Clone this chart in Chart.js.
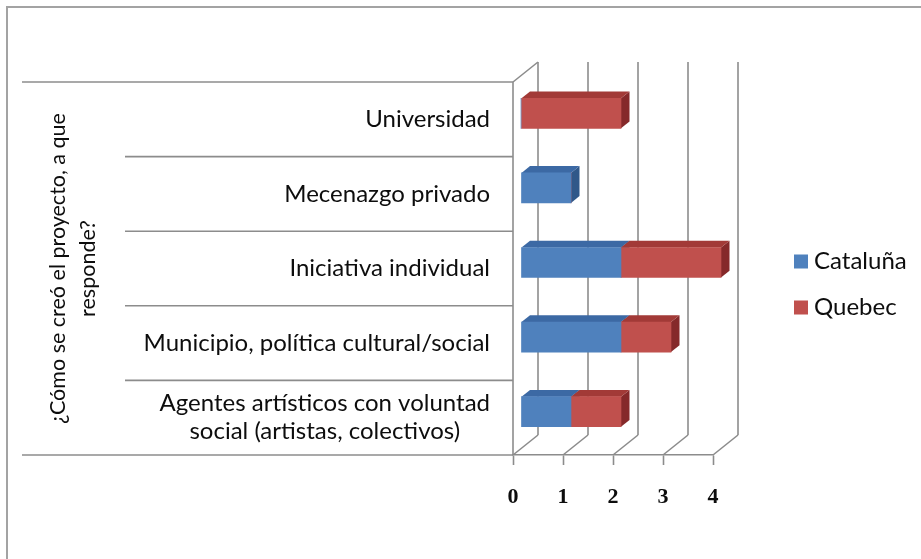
<!DOCTYPE html>
<html>
<head>
<meta charset="utf-8">
<script src="https://cdn.jsdelivr.net/npm/chart.js@4.4.1/dist/chart.umd.min.js"></script>
<style>
  html, body { margin: 0; padding: 0; background: #fff; }
  #wrap { position: relative; width: 921px; height: 559px; overflow: hidden; }
  #frame { position: absolute; left: 6px; top: 6px; width: 1000px; height: 1000px;
           border-left: 2px solid #a3a3a3; border-top: 2px solid #a3a3a3; }
  #chart { position: absolute; left: 0; top: 0; }
</style>
</head>
<body>
<div id="wrap">
  <div id="frame"></div>
  <canvas id="chart" width="921" height="559"></canvas>
</div>
<script>
// Categories, top to bottom
const categories = [
    'Universidad',
    'Mecenazgo privado',
    'Iniciativa individual',
    'Municipio, política cultural/social',
    ['Agentes artísticos con voluntad', 'social (artistas, colectivos)']
];
const catalunaValues = [0, 1, 2, 2, 1];
const quebecValues = [2, 0, 2, 1, 1];
const xTicks = [0, 1, 2, 3, 4];
const axisTitle = ['¿Cómo se creó el proyecto, a que', 'responde?'];

const SANS = 'Lato, "Open Sans", sans-serif';
const LINE = '#8c8c8c';

// 3D look: depth of the back wall and of each bar
const WALL_DX = 25, WALL_DY = -20;
const BAR_OFF_X = 8, BAR_OFF_Y = -6;
const BAR_DX = 8.5, BAR_DY = -6.8;

const faceColors = [
    { top: '#3c69a4', side: '#305889' },
    { top: '#a23a37', side: '#85292a' }
];

function line(ctx, x1, y1, x2, y2) {
    ctx.beginPath();
    ctx.moveTo(x1, y1);
    ctx.lineTo(x2, y2);
    ctx.stroke();
}

// walls, floor and category separators, then the hidden faces of the bars
const wallPlugin = {
    id: 'walls',
    beforeDatasetsDraw(chart) {
        const { ctx, chartArea } = chart;
        const xScale = chart.scales.x;
        const yScale = chart.scales.y;
        const { top, bottom, left } = chartArea;

        ctx.save();
        ctx.strokeStyle = LINE;
        ctx.lineWidth = 1.6;

        xTicks.forEach(v => {
            const px = xScale.getPixelForValue(v);
            line(ctx, px + WALL_DX, top + WALL_DY, px + WALL_DX, bottom + WALL_DY);
            line(ctx, px, bottom, px + WALL_DX, bottom + WALL_DY);
        });

        // side wall
        line(ctx, left, top, left, bottom);
        line(ctx, left, top, left + WALL_DX, top + WALL_DY);

        // separators between categories
        const n = categories.length;
        for (let i = 0; i <= n; i++) {
            let y;
            if (i === 0) y = top;
            else if (i === n) y = bottom;
            else y = (yScale.getPixelForValue(i - 1) + yScale.getPixelForValue(i)) / 2;
            const startX = (i === 0 || i === n) ? 22 : 125;
            line(ctx, startX, y, left, y);
        }
        ctx.restore();

        // bars sit a little behind the front plane; top and side faces first
        ctx.save();
        ctx.translate(BAR_OFF_X, BAR_OFF_Y);
        chart.data.datasets.forEach((ds, di) => {
            const meta = chart.getDatasetMeta(di);
            meta.data.forEach((bar, i) => {
                if (!ds.data[i]) return;
                const p = bar.getProps(['x', 'y', 'base', 'height'], true);
                const l = Math.min(p.base, p.x), r = Math.max(p.base, p.x);
                const t = p.y - p.height / 2, b = p.y + p.height / 2;

                ctx.fillStyle = faceColors[di].side;
                ctx.beginPath();
                ctx.moveTo(r, t);
                ctx.lineTo(r + BAR_DX, t + BAR_DY);
                ctx.lineTo(r + BAR_DX, b + BAR_DY);
                ctx.lineTo(r, b);
                ctx.closePath();
                ctx.fill();

                ctx.fillStyle = faceColors[di].top;
                ctx.beginPath();
                ctx.moveTo(l, t);
                ctx.lineTo(l + BAR_DX, t + BAR_DY);
                ctx.lineTo(r + BAR_DX, t + BAR_DY);
                ctx.lineTo(r, t);
                ctx.closePath();
                ctx.fill();
            });
        });
    },
    afterDatasetsDraw(chart) {
        chart.ctx.restore();
    }
};

// category names, axis title and the legend
const labelPlugin = {
    id: 'categoryLabels',
    afterDraw(chart) {
        const { ctx, chartArea } = chart;
        const yScale = chart.scales.y;
        const rightX = chartArea.left - 23;
        const lh = 28;

        ctx.save();
        ctx.fillStyle = '#0d0d0d';
        ctx.font = '24px ' + SANS;
        ctx.textBaseline = 'middle';
        ctx.textAlign = 'center';
        categories.forEach((cat, i) => {
            const y = yScale.getPixelForValue(i);
            const lines = Array.isArray(cat) ? cat : [cat];
            const w = Math.max(...lines.map(s => ctx.measureText(s).width));
            const cx = rightX - w / 2;
            lines.forEach((s, k) => {
                ctx.fillText(s, cx, y + (k - (lines.length - 1) / 2) * lh);
            });
        });

        // legend
        const legX = chartArea.right + 81;
        const legMid = (chartArea.top + chartArea.bottom) / 2 + 16;
        const gap = 46;
        ctx.textAlign = 'left';
        chart.data.datasets.forEach((ds, di) => {
            const y = legMid + (di - (chart.data.datasets.length - 1) / 2) * gap;
            ctx.fillStyle = ds.backgroundColor;
            ctx.fillRect(legX, y - 7, 14, 14);
            ctx.fillStyle = '#0d0d0d';
            ctx.fillText(ds.label, legX + 20, y);
        });

        // rotated title
        const midY = (chartArea.top + chartArea.bottom) / 2;
        ctx.font = '21.5px ' + SANS;
        ctx.translate(73, midY);
        ctx.rotate(-Math.PI / 2);
        ctx.textAlign = 'center';
        axisTitle.forEach((s, k) => {
            ctx.fillText(s, 0, (k - (axisTitle.length - 1) / 2) * 30);
        });
        ctx.restore();
    }
};

new Chart(document.getElementById('chart'), {
    type: 'bar',
    data: {
        labels: categories,
        datasets: [
            {
                label: 'Cataluña',
                data: catalunaValues,
                backgroundColor: '#4f81bd',
                barThickness: 30,
                borderWidth: 0,
                clip: false
            },
            {
                label: 'Quebec',
                data: quebecValues,
                backgroundColor: '#c0504d',
                barThickness: 30,
                borderWidth: 0,
                clip: false
            }
        ]
    },
    options: {
        indexAxis: 'y',
        responsive: false,
        animation: false,
        events: [],
        layout: {
            padding: { left: 513, top: 82, right: 208, bottom: 44 }
        },
        plugins: {
            legend: { display: false },
            tooltip: { enabled: false }
        },
        scales: {
            x: {
                stacked: true,
                min: 0,
                max: 4,
                ticks: {
                    stepSize: 1,
                    padding: 19,
                    color: '#0d0d0d',
                    font: { family: '"Liberation Serif", serif', size: 22, weight: 'bold' }
                },
                grid: {
                    drawOnChartArea: false,
                    drawTicks: true,
                    tickLength: 10,
                    tickColor: LINE,
                    tickWidth: 1.6
                },
                border: { display: true, color: LINE, width: 1.6 },
                afterFit(scale) { scale.height = 60; }
            },
            y: {
                stacked: true,
                display: false
            }
        }
    },
    plugins: [wallPlugin, labelPlugin]
});
</script>
</body>
</html>
